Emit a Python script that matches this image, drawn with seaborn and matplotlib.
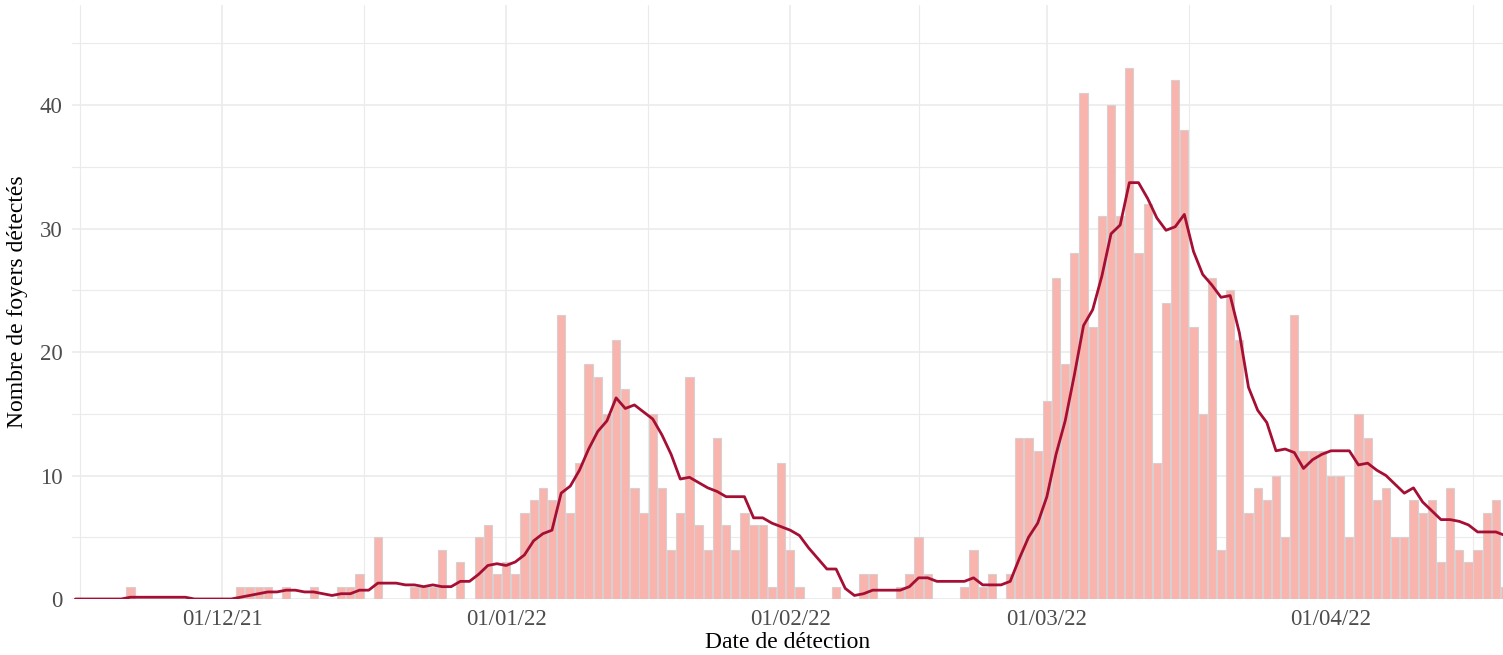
import matplotlib
matplotlib.use("Agg")
import matplotlib.pyplot as plt
import matplotlib.dates as mdates
from matplotlib.ticker import FixedLocator
import seaborn as sns
import pandas as pd

# ---------------- data (daily counts) ----------------
start_date = "2021-11-15"
counts_nov = [0, 0, 0, 0, 0, 0, 1, 0, 0, 0, 0, 0, 0, 0, 0, 0]
counts_dec = [0, 0, 1, 1, 1, 1, 0, 1, 0, 0, 1, 0, 0, 1, 1, 2,
              0, 5, 0, 0, 0, 1, 1, 1, 4, 0, 3, 0, 5, 6, 2]
counts_jan = [3, 2, 7, 8, 9, 8, 23, 7, 11, 19, 18, 15, 21, 17, 9, 7,
              15, 9, 4, 7, 18, 6, 4, 13, 6, 4, 7, 6, 6, 1, 11]
counts_feb = [4, 1, 0, 0, 0, 1, 0, 0, 2, 2, 0, 0, 1, 2, 5, 2,
              0, 0, 0, 1, 4, 1, 2, 0, 2, 13, 13, 12]
counts_mar = [16, 26, 19, 28, 41, 22, 31, 40, 31, 43, 28, 32, 11, 24, 42, 38,
              22, 15, 26, 4, 25, 21, 7, 9, 8, 10, 5, 23, 12, 12, 12]
counts_apr = [10, 10, 5, 15, 13, 8, 9, 5, 5, 8, 7, 8, 3, 9, 4, 3, 4, 7, 8, 1]

tick_dates = ["2021-12-01", "2022-01-01", "2022-02-01", "2022-03-01", "2022-04-01"]
y_ticks = [0, 10, 20, 30, 40]
x_title = "Date de détection"
y_title = "Nombre de foyers détectés"

counts = counts_nov + counts_dec + counts_jan + counts_feb + counts_mar + counts_apr
df = pd.DataFrame({"date": pd.date_range(start_date, periods=len(counts), freq="D"),
                   "n": counts})
df["x"] = mdates.date2num(df["date"])
# 7-day trailing moving average of the daily counts
df["ma7"] = df["n"].rolling(7, min_periods=1).mean()

# ---------------- style ----------------
sns.set_style("white")
plt.rcParams["font.family"] = ["Liberation Serif", "DejaVu Serif"]

bar_fill = "#F8B4AD"
bar_edge = "#D8D0D0"
line_col = "#A50F34"
grid_col = "#EBEBEB"

W, H = 1503, 655
fig = plt.figure(figsize=(W / 100, H / 100), dpi=100)
L, R, T, B = 72, 1503, 5, 599
ax = fig.add_axes([L / W, (H - B) / H, (R - L) / W, (B - T) / H])

sns.histplot(data=df[df["n"] > 0], x="x", weights="n", discrete=True, shrink=0.9,
             color=bar_fill, edgecolor=bar_edge, linewidth=0.8, alpha=1.0, ax=ax,
             zorder=2)
sns.lineplot(data=df, x="x", y="ma7", color=line_col, linewidth=2.0, ax=ax, zorder=3)

# axes limits
ref = mdates.date2num(pd.Timestamp("2021-12-01"))
ax.set_xlim(ref - 16.37, ref + 139.77)
ax.set_ylim(0, 48.1)

# ticks and grid
major = list(mdates.date2num(pd.to_datetime(tick_dates)))
step = major[1] - major[0]
ext = [major[0] - step] + major + [major[-1] + step]
minor = [(a + b) / 2 for a, b in zip(ext[:-1], ext[1:])]
ax.xaxis.set_major_locator(FixedLocator(major))
ax.xaxis.set_minor_locator(FixedLocator(minor))
ax.xaxis.set_major_formatter(mdates.DateFormatter("%d/%m/%y"))
ax.yaxis.set_major_locator(FixedLocator(y_ticks))
ax.yaxis.set_minor_locator(FixedLocator([5, 15, 25, 35, 45]))

ax.grid(which="major", color=grid_col, linewidth=1.2, zorder=0)
ax.grid(which="minor", color=grid_col, linewidth=0.8, zorder=0)
ax.set_axisbelow(True)
for s in ax.spines.values():
    s.set_visible(False)

ax.tick_params(axis="x", which="major", length=4, width=1, color="#4D4D4D",
               labelsize=16.5, labelcolor="#4D4D4D", pad=3)
ax.tick_params(axis="x", which="minor", length=0)
ax.tick_params(axis="y", which="both", length=0, labelsize=16.5,
               labelcolor="#4D4D4D", pad=7)

ax.set_xlabel(x_title, fontsize=17, color="black", labelpad=2)
ax.set_ylabel(y_title, fontsize=17, color="black", labelpad=8)

fig.savefig("out.png", dpi=100)
